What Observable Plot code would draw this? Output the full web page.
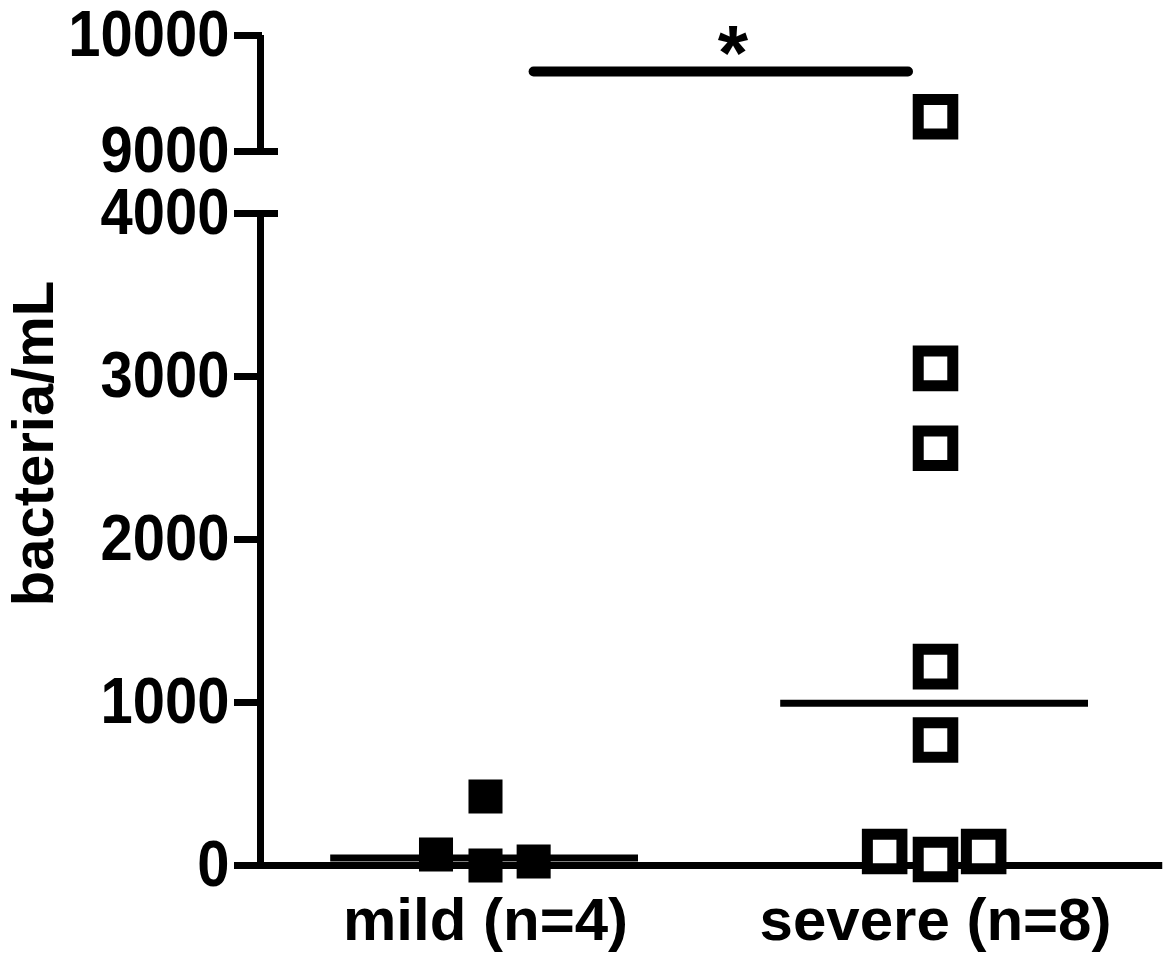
<!DOCTYPE html>
<html>
<head>
<meta charset="utf-8">
<script src="https://cdn.jsdelivr.net/npm/d3@7"></script>
<script src="https://cdn.jsdelivr.net/npm/@observablehq/plot@0.6"></script>
<style>
  html, body { margin: 0; padding: 0; background: #fff; }
  #chart svg { display: block; }
</style>
</head>
<body>
<div id="chart"></div>
<script>
// ---- data ----
const groups = ["mild (n=4)", "severe (n=8)"];
const mildValues = [67, 0, 25, 423];
const mildJitter = [-0.11, 0, 0.107, 0];
const severeValues = [9300, 3050, 2560, 1220, 770, 86, 37, 86];
const severeJitter = [0, 0, 0, 0, 0, -0.113, 0, 0.107];
const medians = [46, 995];
const yTicks = [0, 1000, 2000, 3000, 4000, 9000, 10000];
const breakTicks = [4000, 9000];
const significance = {from: 1.108, to: 1.94, value: 9690, label: "*"};

const mild = mildValues.map((v, i) => ({x: 1 + mildJitter[i], y: v}));
const severe = severeValues.map((v, i) => ({x: 2 + severeJitter[i], y: v}));
const medianRows = medians.map((m, i) => ({x1: i + 1 - 0.344, x2: i + 1 + 0.34, y: m}));

const font = "'Liberation Sans', Arial, sans-serif";
const lw = 7;

const chart = Plot.plot({
  width: 1171,
  height: 958,
  marginLeft: 262,
  marginRight: 9,
  marginTop: 35,
  marginBottom: 93,
  style: {fontFamily: font, background: "#fff", overflow: "visible"},
  x: {type: "linear", domain: [0.5, 2.5], range: [260, 1160]},
  y: {type: "linear", domain: [0, 4000, 9000, 10000], range: [865, 213, 151, 35]},
  marks: [
    // y axis segments (broken axis)
    Plot.ruleX([0.5], {y1: 0, y2: 4000, stroke: "#000", strokeWidth: lw}),
    Plot.ruleX([0.5], {y1: 9000, y2: 10000, stroke: "#000", strokeWidth: lw}),
    // break ticks extending to the right
    Plot.ruleY(breakTicks, {x1: 0.5, x2: 0.54, stroke: "#000", strokeWidth: lw}),
    // x axis line
    Plot.ruleY([0], {x1: 0.5, x2: 2.505, stroke: "#000", strokeWidth: lw}),
    Plot.axisY({
      ticks: yTicks, tickSize: 28, tickPadding: 5, strokeWidth: lw,
      tickFormat: d => String(d), fontSize: 58, fontWeight: "bold", fill: "#000",
      label: null
    }),
    Plot.axisX({
      ticks: [1, 2], tickSize: 14, tickPadding: 18, strokeWidth: lw,
      tickFormat: d => groups[d - 1], fontSize: 60, fontWeight: "bold", fill: "#000",
      label: null
    }),
    Plot.text(["bacteria/mL"], {
      frameAnchor: "left", dx: -228, dy: -7, rotate: -90, fontSize: 58, fontWeight: "bold",
      fill: "#000", textAnchor: "middle"
    }),
    // medians
    Plot.ruleY(medianRows, {x1: "x1", x2: "x2", y: "y", stroke: "#000", strokeWidth: 7}),
    // significance bar
    Plot.ruleY([significance], {x1: "from", x2: "to", y: "value", stroke: "#000", strokeWidth: 10, strokeLinecap: "round"}),
    Plot.text([significance], {
      x: d => (d.from + d.to) / 2 + 0.026, y: "value", text: "label",
      fontSize: 78, fontWeight: "bold", fill: "#000", lineAnchor: "bottom", dy: 9
    }),
    // points
    Plot.dot(mild, {x: "x", y: "y", symbol: "square", r: 19.2, fill: "#000", stroke: "none"}),
    Plot.dot(severe, {x: "x", y: "y", symbol: "square", r: 19.5, fill: "#fff", stroke: "#000", strokeWidth: 11})
  ]
});
// the reference's tick labels are drawn slightly taller than the font
d3.select(chart).selectAll("g[aria-label='y-axis tick label'] text")
  .attr("transform", function () { return this.getAttribute("transform") + " scale(1,1.12)"; });
document.getElementById("chart").appendChild(chart);
</script>
</body>
</html>
